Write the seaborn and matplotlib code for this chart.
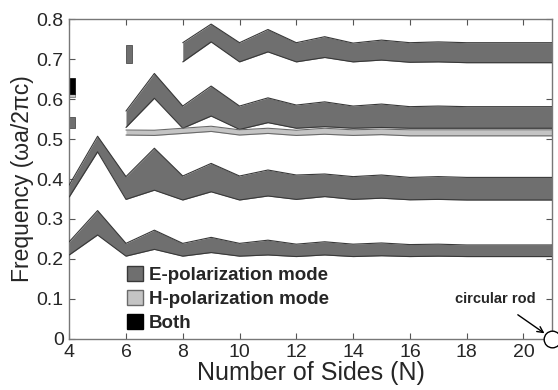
import matplotlib
matplotlib.use("Agg")
import matplotlib.pyplot as plt
from matplotlib.patches import Patch
import seaborn as sns
import pandas as pd

# ---------------- data ----------------
sides = [4, 5, 6, 7, 8, 9, 10, 11, 12, 13, 14, 15, 16, 17, 18, 19, 20, 21]

band1_low = [0.210, 0.260, 0.207, 0.224, 0.207, 0.216, 0.207, 0.210, 0.206, 0.210,
             0.206, 0.208, 0.206, 0.207, 0.206, 0.206, 0.206, 0.206]
band1_high = [0.243, 0.321, 0.239, 0.272, 0.239, 0.254, 0.239, 0.247, 0.237, 0.243,
              0.237, 0.240, 0.236, 0.237, 0.235, 0.235, 0.235, 0.235]

band2_low = [0.355, 0.468, 0.349, 0.372, 0.3475, 0.368, 0.3475, 0.3575, 0.349, 0.356,
             0.349, 0.352, 0.348, 0.349, 0.3475, 0.3475, 0.3475, 0.3475]
band2_high = [0.385, 0.507, 0.406, 0.477, 0.4075, 0.439, 0.4075, 0.4225, 0.410, 0.4125,
              0.406, 0.410, 0.404, 0.406, 0.404, 0.404, 0.404, 0.404]

sides3 = sides[2:]
band3_low = [0.529, 0.602, 0.527, 0.5575, 0.524, 0.541, 0.527, 0.531, 0.527, 0.529,
             0.527, 0.527, 0.527, 0.527, 0.527, 0.527]
band3_high = [0.570, 0.664, 0.5825, 0.6325, 0.5825, 0.603, 0.585, 0.593, 0.5825, 0.5875,
              0.581, 0.5825, 0.581, 0.581, 0.581, 0.581]

hband_low = [0.510, 0.509, 0.514, 0.519, 0.510, 0.514, 0.509, 0.512, 0.509, 0.511,
             0.508, 0.508, 0.508, 0.508, 0.508, 0.508]
hband_high = [0.5225, 0.522, 0.527, 0.532, 0.523, 0.527, 0.522, 0.527, 0.523, 0.525,
              0.523, 0.523, 0.523, 0.523, 0.523, 0.523]

sides4 = sides[4:]
band4_low = [0.693, 0.743, 0.693, 0.718, 0.693, 0.704, 0.693, 0.6975, 0.692, 0.693,
             0.691, 0.691, 0.691, 0.691]
band4_high = [0.741, 0.7875, 0.741, 0.774, 0.741, 0.756, 0.740, 0.7475, 0.741, 0.743,
              0.741, 0.741, 0.741, 0.741]

# isolated gaps that exist only at one N
iso_N = [4, 4, 4, 6]
iso_low = [0.527, 0.604, 0.6125, 0.691]
iso_high = [0.556, 0.6125, 0.6525, 0.735]
iso_kind = ["E", "H", "Both", "E"]

legend_labels = ["E-polarization mode", "H-polarization mode", "Both"]
x_ticks = [4, 6, 8, 10, 12, 14, 16, 18, 20]
y_ticks = [0, 0.1, 0.2, 0.3, 0.4, 0.5, 0.6, 0.7, 0.8]
y_ticklabels = ["0", "0.1", "0.2", "0.3", "0.4", "0.5", "0.6", "0.7", "0.8"]

# ---------------- style ----------------
sns.set_theme(style="ticks")
plt.rcParams["font.family"] = ["Liberation Sans", "DejaVu Sans"]
plt.rcParams["xtick.direction"] = "in"
plt.rcParams["ytick.direction"] = "in"

E_FACE = "#6f6f6f"
E_EDGE = "#383838"
H_FACE = "#c4c4c4"
H_EDGE = "#6a6a6a"
B_FACE = "#000000"
colors = {"E": (E_FACE, E_EDGE), "H": (H_FACE, H_EDGE), "Both": (B_FACE, B_FACE)}

fig = plt.figure(figsize=(5.58, 3.90), dpi=100)
ax = fig.add_axes([0.124, 0.131, 0.865, 0.820])


def draw_band(xs, lo, hi, kind):
    face, edge = colors[kind]
    ax.fill_between(xs, lo, hi, color=face, linewidth=0, zorder=2)
    df = pd.DataFrame({"N": list(xs) * 2, "f": list(lo) + list(hi),
                       "edge": ["lo"] * len(xs) + ["hi"] * len(xs)})
    sns.lineplot(data=df, x="N", y="f", units="edge", estimator=None,
                 color=edge, linewidth=0.8, ax=ax, zorder=3, legend=False)


draw_band(sides, band1_low, band1_high, "E")
draw_band(sides, band2_low, band2_high, "E")
draw_band(sides3, band3_low, band3_high, "E")
draw_band(sides3, hband_low, hband_high, "H")
draw_band(sides4, band4_low, band4_high, "E")

for n, lo, hi, k in zip(iso_N, iso_low, iso_high, iso_kind):
    face, edge = colors[k]
    ax.fill_between([n, n + 0.2], [lo, lo], [hi, hi], color=face,
                    edgecolor=edge, linewidth=0.5, zorder=2)

# circular rod marker
ax.plot([21], [0], marker="o", markersize=12, markerfacecolor="white",
        markeredgecolor="black", markeredgewidth=1.0, clip_on=False, zorder=10)
ax.annotate("circular rod", xy=(20.78, 0.012), xytext=(19.0, 0.1),
            ha="center", va="center", fontsize=10.5, fontweight="bold",
            arrowprops=dict(arrowstyle="->", color="black", lw=1.0,
                            shrinkA=7, shrinkB=1))

ax.set_xlim(4, 21)
ax.set_ylim(0, 0.8)
ax.set_xticks(x_ticks)
ax.set_xticklabels([str(t) for t in x_ticks])
ax.set_yticks(y_ticks)
ax.set_yticklabels(y_ticklabels)
ax.tick_params(axis="both", labelsize=14, length=4, width=0.8, color="#555555",
               top=True, right=True)
ax.tick_params(axis="x", pad=4)
ax.tick_params(axis="y", pad=4)
for sp in ax.spines.values():
    sp.set_visible(True)
    sp.set_color("#777777")
    sp.set_linewidth(1.0)

ax.set_xlabel("Number of Sides (N)", fontsize=18, labelpad=0)
ax.set_ylabel("Frequency (ωa/2πc)", fontsize=16.5, labelpad=2)

handles = [Patch(facecolor=E_FACE, edgecolor=E_EDGE),
           Patch(facecolor=H_FACE, edgecolor=H_EDGE),
           Patch(facecolor=B_FACE, edgecolor=B_FACE)]
ax.legend(handles, legend_labels, loc="upper left", bbox_to_anchor=(0.105, 0.25),
          frameon=False, handlelength=0.85, handleheight=0.85, handletextpad=0.3,
          labelspacing=0.3, borderaxespad=0,
          prop={"size": 13.5, "weight": "bold"})

fig.savefig("out.png", dpi=100)
